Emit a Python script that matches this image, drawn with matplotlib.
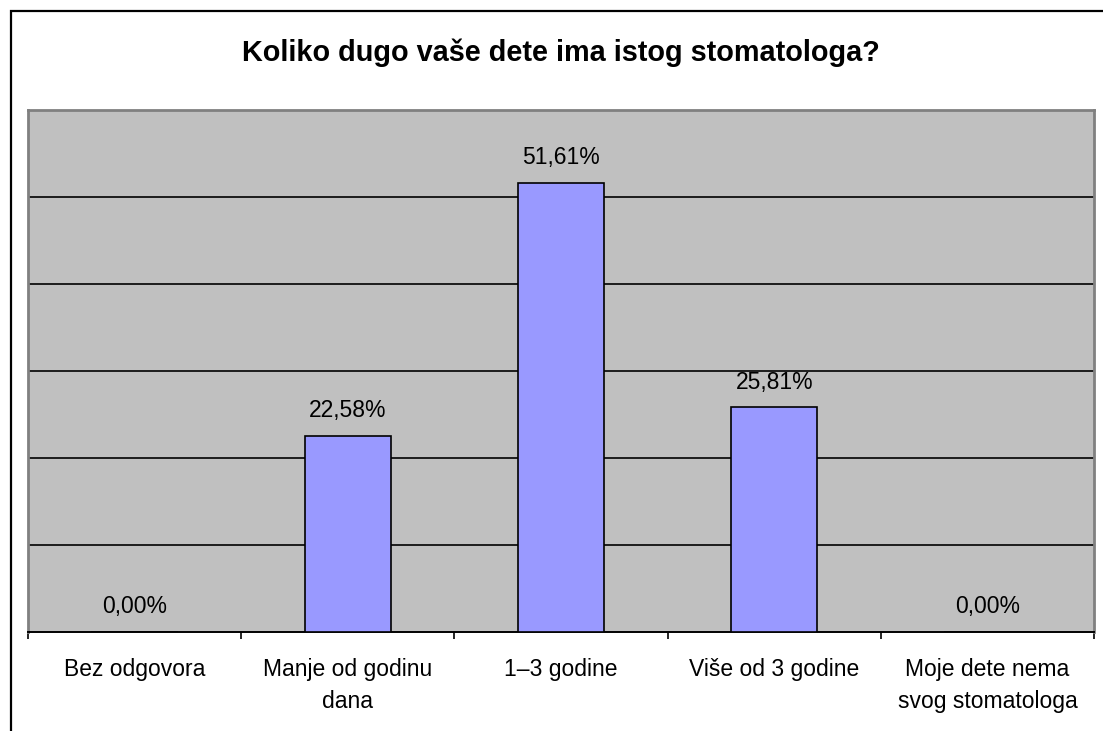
import matplotlib
matplotlib.use("Agg")
import matplotlib.pyplot as plt
from matplotlib.patches import Rectangle
from matplotlib.ticker import FixedLocator

plt.rcParams['font.family'] = ['Liberation Sans', 'DejaVu Sans']

title = "Koliko dugo vaše dete ima istog stomatologa?"
categories = ["Bez odgovora", "Manje od godinu\ndana", "1–3 godine",
              "Više od 3 godine", "Moje dete nema\nsvog stomatologa"]
values = [0.00, 22.58, 51.61, 25.81, 0.00]
value_labels = ["0,00%", "22,58%", "51,61%", "25,81%", "0,00%"]

W, H = 1103, 731
fig = plt.figure(figsize=(W / 100, H / 100), dpi=100)
fig.patch.set_facecolor('white')

# outer frame (cropped at right and bottom)
fig.patches.append(Rectangle((10.5 / W, -0.2), 1.5, (H - 10.5) / H + 0.2,
                             transform=fig.transFigure, fill=False,
                             edgecolor='black', linewidth=1.6, zorder=0))

ax = fig.add_axes([28 / W, (H - 632) / H, (1094 - 28) / W, (632 - 110) / H])
ax.set_facecolor('#C0C0C0')

x = list(range(len(categories)))
ax.bar(x, values, width=0.405, color='#9999FF', edgecolor='black',
       linewidth=1.2, zorder=3)

for xi, v, lab in zip(x, values, value_labels):
    ax.annotate(lab, (xi, v), xytext=(0, 13.5), textcoords='offset points',
                ha='center', va='baseline', fontsize=16.5, color='black', zorder=4)

ax.set_xlim(-0.5, len(categories) - 0.5)
ax.set_ylim(0, 60)

ax.yaxis.set_major_locator(FixedLocator([10, 20, 30, 40, 50]))
ax.yaxis.grid(True, color='black', linewidth=1.2, zorder=1)
ax.set_axisbelow(True)
ax.tick_params(axis='y', left=False, labelleft=False)

ax.set_xticks(x)
ax.set_xticklabels(categories, fontsize=16.5, linespacing=1.5)
ax.xaxis.set_minor_locator(FixedLocator([i - 0.5 for i in range(len(categories) + 1)]))
ax.tick_params(axis='x', which='major', length=0, pad=19)
ax.tick_params(axis='x', which='minor', length=5, width=1.2, color='black')

for side in ['left', 'top', 'right']:
    ax.spines[side].set_color('#808080')
    ax.spines[side].set_linewidth(2)
ax.spines['bottom'].set_color('black')
ax.spines['bottom'].set_linewidth(1.4)

fig.text((28 + 1094) / 2 / W, (H - 53) / H, title, ha='center', va='center',
         fontsize=20.8, fontweight='bold')

fig.savefig('out.png', dpi=100)
